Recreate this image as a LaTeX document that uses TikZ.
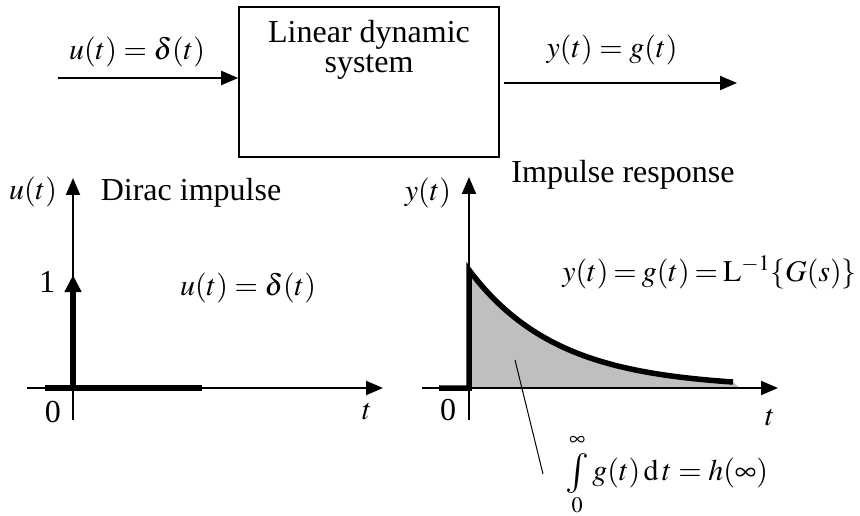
\documentclass[tikz,border=0pt]{standalone}
\usepackage{mathptmx}
\usepackage{fontspec}
\setmainfont{Liberation Serif}
\usetikzlibrary{arrows.meta, positioning}
\newcommand{\bigint}{\mathop{\vcenter{\hbox{\fontsize{40}{40}\selectfont$\int$}}}}

\begin{document}
\begin{tikzpicture}[x=1pt, y=1pt,
          txt/.style={font=\fontsize{32}{30}\selectfont, inner sep=0pt},
          mth/.style={font=\fontsize{30}{30}\selectfont, inner sep=0pt},
          sysbox/.style={draw, line width=1.6pt,
                         minimum width=260pt, minimum height=150pt},
          arr/.style={line width=2pt, -{Triangle[length=17pt, width=14pt]}},
          sig/.style={line width=5.5pt},
          curve/.style={domain=469:733, samples=80}
        ]
        \useasboundingbox (0,0) rectangle (860,515);

        % Block diagram
        \node[sysbox] (sys) at (369,433) {};
        \node[txt, align=center, anchor=north] (sysl) at ([yshift=-14pt]sys.north)
              {Linear dynamic\\system};
        \coordinate (in)  at (58,437);
        \coordinate (out) at (737,432);
        \draw[arr] (in) -- (sys.west |- in);
        \draw[arr] ([xshift=4pt]sys.east |- out) -- (out);
        \node[mth] (ul) at (137,463) {$u(t)=\delta(t)$};
        \node[mth] (yl) at (612,465) {$y(t)=g(t)$};

        % Dirac impulse
        \coordinate (o1) at (73,127);
        \draw[arr] (27,127) -- (383,127);
        \draw[arr] (73,95) -- (73,337);
        \draw[sig] (45,127) -- (202,127);
        \draw[sig, -{Triangle[length=17pt, width=16pt]}] (o1) -- (73,240);
        \node[mth] (u1) at (33,323) {$u(t)$};
        \node[txt] (d1) at (191,322) {Dirac impulse};
        \node[txt] (one) at (47,233) {1};
        \node[mth] (u2) at (248,227) {$u(t)=\delta(t)$};
        \node[txt] (z1) at (53,103) {0};
        \node[mth] (t1) at (367,103) {$t$};

        % Impulse response
        \coordinate (o2) at (469,127);
        \fill[gray!50] (o2) -- plot[curve] (\x, {127+118*exp(-(\x-469)/88.6)})
              -- (740,127) -- cycle;
        \draw[arr] (422,127) -- (778,127);
        \draw[arr] (469,95) -- (469,338);
        \draw[sig] (439,127) -- (o2) -- (469,245)
              -- plot[curve] (\x, {127+118*exp(-(\x-469)/88.6)});
        \node[mth] (y1) at (428,322) {$y(t)$};
        \node[txt] (ir) at (623,340) {Impulse response};
        \node[mth, anchor=east] (gl) at (857,243)
              {$\thickmuskip=3mu y(t)=g(t)=\mathrm{L}^{-1}\{G(s)\}$};
        \node[txt] (z2) at (448,105) {0};
        \node[mth] (t2) at (770,97) {$t$};
        \node[mth, anchor=west] (intg) at (565,40)
              {$\bigint\limits_0^{\infty\rule[-4pt]{0pt}{0pt}} g(t)\,\mathrm{d}\,t=h(\infty)$};
        \coordinate (area) at (515,155);
        \draw[line width=1pt] (area) -- ([xshift=-22pt,yshift=1pt]intg.west);
      \end{tikzpicture}
\end{document}
